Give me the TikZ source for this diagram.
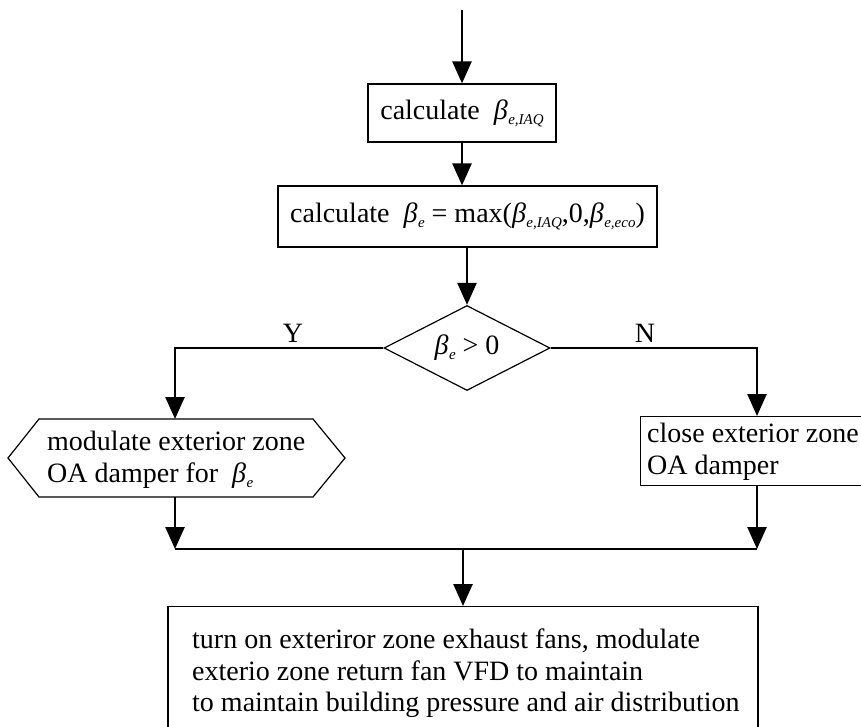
\documentclass[tikz,border=0pt]{standalone}
\usepackage{fontspec}
\setmainfont{Liberation Serif}
\usetikzlibrary{arrows.meta,shapes.geometric,calc}

% italic beta with a lowered italic subscript
\newcommand{\bsub}[1]{\textit{β}\kern0.5pt\raisebox{-5pt}{\fontsize{15}{15}\selectfont\textit{#1}}}

\begin{document}
\begin{tikzpicture}[x=1pt,y=-1pt,
  font=\fontsize{28}{31.5}\selectfont,
  conn/.style={line width=2.6pt},
  arr/.style={conn,-{Triangle[width=19pt,length=22pt]}},
  box/.style={draw,line width=1.2pt,inner sep=0pt},
  lbl/.style={inner sep=0pt}]

\useasboundingbox (0,0) rectangle (861,727);
\clip (0,0) rectangle (861,727);

% process boxes
\node[box,minimum width=188pt,minimum height=58pt] (c1) at (462,113)
  {calculate\ \ \bsub{e,IAQ}};
\node[box,minimum width=379pt,minimum height=61pt] (c2) at (467.5,216.5)
  {calculate\ \ \bsub{e} = max(\bsub{e,IAQ},0,\bsub{e,eco})};

% decision
\node[diamond,draw,line width=1.2pt,inner sep=0pt,aspect=1.95,
      minimum width=166pt,minimum height=85pt] (dec) at (467,348)
  {\bsub{e} > 0};

% left branch: hexagonal action box
\draw[line width=1.2pt] (8,458) -- (39,419) -- (313,419) -- (345,458)
  -- (313,497) -- (39,497) -- cycle;
\node[lbl,anchor=west,align=left] (mod) at (47,460)
  {modulate exterior zone\\OA damper for\ \ \bsub{e}};
\coordinate (modTop) at (175,419);
\coordinate (modBot) at (175,497);

% right branch: box runs past the right edge
\node[box,anchor=north west,minimum width=260pt,minimum height=69pt] (close) at (640,416) {};
\node[lbl,anchor=west,align=left] (closetext) at (647,452)
  {close exterior zone\\OA damper};
\coordinate (closeTop) at (757,416);
\coordinate (closeBot) at (757,485);

% final box: runs past the bottom edge
\node[box,anchor=north,minimum width=590pt,minimum height=170pt] (fin) at (463,606) {};
\node[lbl,anchor=north west,align=left] (fintext) at (192,629)
  {turn on exteriror zone exhaust fans, modulate\\
   exterio zone return fan VFD to maintain\\
   to maintain building pressure and air distribution};

% branch labels
\node[lbl] (ylab) at (293,333) {Y};
\node[lbl] (nlab) at (645,333) {N};

% connectors
\coordinate (start) at (462,10);
\draw[arr] (start) -- (c1.north);
\draw[arr] (c1.south) -- (c1.south |- c2.north);
\draw[arr] (dec.north |- c2.south) -- (dec.north);
\draw[arr] (dec.west) -| (modTop);
\draw[arr] (dec.east) -| (closeTop);

\coordinate (jl) at (175,549);
\coordinate (jr) at (757,549);
\coordinate (jm) at (463,549);
\draw[arr] (modBot) -- (jl);
\draw[arr] (closeBot) -- (jr);
\draw[conn] (jl) -- (jr);
\draw[arr] (jm) -- (fin.north);
\end{tikzpicture}
\end{document}
